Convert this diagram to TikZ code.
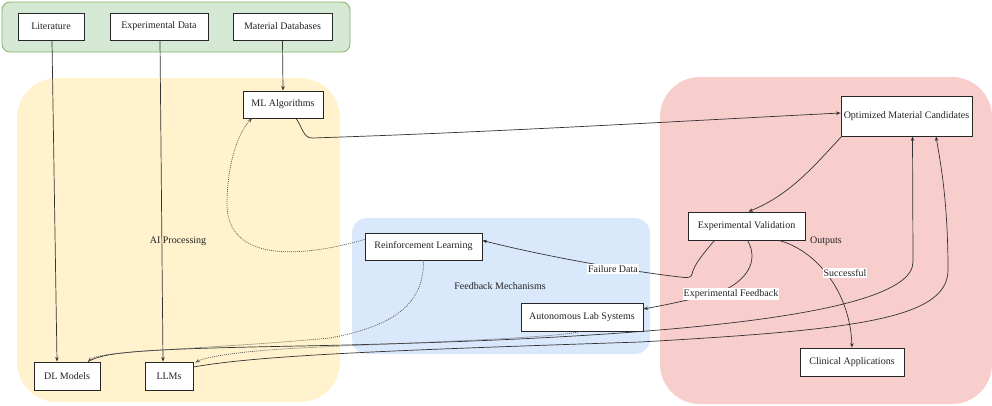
\documentclass[tikz,border=0pt]{standalone}
\usepackage{fontspec}
\setmainfont{Liberation Serif}
\usetikzlibrary{arrows.meta,calc}
\definecolor{grfill}{HTML}{D5E8D4}
\definecolor{grline}{HTML}{82B366}
\definecolor{yefill}{HTML}{FFF2CC}
\definecolor{blfill}{HTML}{DAE8FC}
\definecolor{rdfill}{HTML}{F8CECC}
\definecolor{txt}{HTML}{222222}
\tikzset{
  box/.style={draw=black!85, line width=0.9pt, fill=white, inner sep=0pt, font=\fontsize{10}{12}\selectfont, text=txt},
  conn/.style={draw=black!80, line width=0.7pt, -{Stealth[length=4.5pt,width=3.5pt]}},
  dotconn/.style={conn, draw=black!65, dash pattern=on 1pt off 1pt},
  elabel/.style={fill=white, inner sep=1pt, font=\fontsize{10}{12}\selectfont, text=txt},
  glabel/.style={inner sep=0pt, font=\fontsize{10}{12}\selectfont, text=txt},
  region/.style={draw=none}
}
\begin{document}
\begin{tikzpicture}[x=1pt,y=-1pt]
\useasboundingbox (0,0) rectangle (992,405);
% regions
\path[region, fill=yefill, rounded corners=40pt] (17,78) rectangle (340,402);
\path[region, fill=blfill, rounded corners=15pt] (352,218) rectangle (650,354);
\path[region, fill=rdfill, rounded corners=40pt] (660,77) rectangle (992,404);
\draw[fill=grfill, draw=grline, line width=0.8pt, rounded corners=8pt] (2,2) rectangle (350,52);
% group labels
\node[glabel] (aiproc) at (178,241) {AI Processing};
\node[glabel] (fbmech) at (500,286) {Feedback Mechanisms};
\node[glabel] (outputs) at (826,241) {Outputs};
% nodes
\node[box, minimum width=66pt, minimum height=27pt] (lit) at (51,26.5) {Literature};
\node[box, minimum width=98pt, minimum height=27pt] (expdata) at (159,26.5) {Experimental Data};
\node[box, minimum width=99pt, minimum height=27pt] (matdb) at (282.5,26.5) {Material Databases};
\node[box, minimum width=80pt, minimum height=27pt] (ml) at (283,104.5) {ML Algorithms};
\node[box, minimum width=66pt, minimum height=28pt] (dl) at (67,376) {DL Models};
\node[box, minimum width=48pt, minimum height=28pt] (llm) at (169,376) {LLMs};
\node[box, minimum width=117pt, minimum height=27pt] (rl) at (423.5,246.5) {Reinforcement Learning};
\node[box, minimum width=122pt, minimum height=28pt] (auto) at (582,317) {Autonomous Lab Systems};
\node[box, minimum width=131pt, minimum height=40pt] (opt) at (906.5,116) {Optimized Material Candidates};
\node[box, minimum width=117pt, minimum height=28pt] (expval) at (746.5,226) {Experimental Validation};
\node[box, minimum width=104pt, minimum height=28pt] (clin) at (852,362) {Clinical Applications};
% straight input edges
\draw[conn] ($(lit.south)+(1,0)$) -- ($(dl.north)+(-10,0)$);
\draw[conn] ($(expdata.south)+(1,0)$) -- ($(llm.north)+(-6,0)$);
\draw[conn] (matdb.south) -- (ml.north);
% ML -> Optimized
\draw[conn] ($(ml.south)+(13,0)$) .. controls (302,126) and (303,138) .. (312,138)
  .. controls (500,132) and (700,120) .. ($(opt.west)+(0,-3)$);
% Optimized -> Experimental Validation
\draw[conn] ($(opt.south west)+(1,0)$) .. controls (815,165) and (790,195) .. ($(expval.north)+(2,0)$);
% Experimental Validation -> Reinforcement Learning (Failure Data)
\draw[conn] ($(expval.south)+(-32,0)$) .. controls (702,255) and (694,265) .. (692,274)
  .. controls (691,278) and (688,278) .. (680,277)
  .. controls (620,270) and (540,255) .. ($(rl.east)+(0,-6)$);
\node[elabel] (faillbl) at (613,269) {Failure Data};
% Experimental Validation -> Autonomous Lab (Experimental Feedback)
\draw[conn] ($(expval.south)+(1,0)$) .. controls (760,262) and (745,282) .. (720,292)
  .. controls (690,300) and (665,305) .. ($(auto.east)+(0,-8)$);
\node[elabel] (fblbl) at (731,294) {Experimental Feedback};
% Experimental Validation -> Clinical (Successful)
\draw[conn] ($(expval.south)+(32.5,0)$) .. controls (815,250) and (850,290) .. (clin.north);
\node[elabel] (succlbl) at (845,273) {Successful};
% DL Models -> Optimized
\draw[conn] ($(dl.north)+(21,0)$) .. controls (105,352) and (140,349) .. (300,346)
  .. controls (600,340) and (913,322) .. (913,262) -- ($(opt.south)+(6,0)$);
% LLMs -> Optimized
\draw[conn] ($(llm.east)+(0,-9)$) .. controls (260,355) and (400,350) .. (640,342)
  .. controls (850,330) and (948,320) .. (948,270)
  .. controls (948,200) and (940,160) .. ($(opt.south)+(29.5,0)$);
% dotted feedback edges
\draw[dotconn] ($(rl.west)+(0,-7)$) .. controls (300,258) and (228,262) .. (227,205)
  .. controls (227,160) and (240,130) .. ($(ml.south)+(-31,0)$);
\draw[dotconn] (rl.south) .. controls (424,300) and (400,325) .. (330,338)
  .. controls (200,350) and (100,350) .. ($(dl.north)+(21,0)$);
\draw[dotconn] ($(auto.south)+(-2,0)$) .. controls (560,338) and (400,343) .. (300,348)
  .. controls (240,351) and (205,357) .. ($(llm.north east)+(2,1)$);
\end{tikzpicture}
\end{document}
